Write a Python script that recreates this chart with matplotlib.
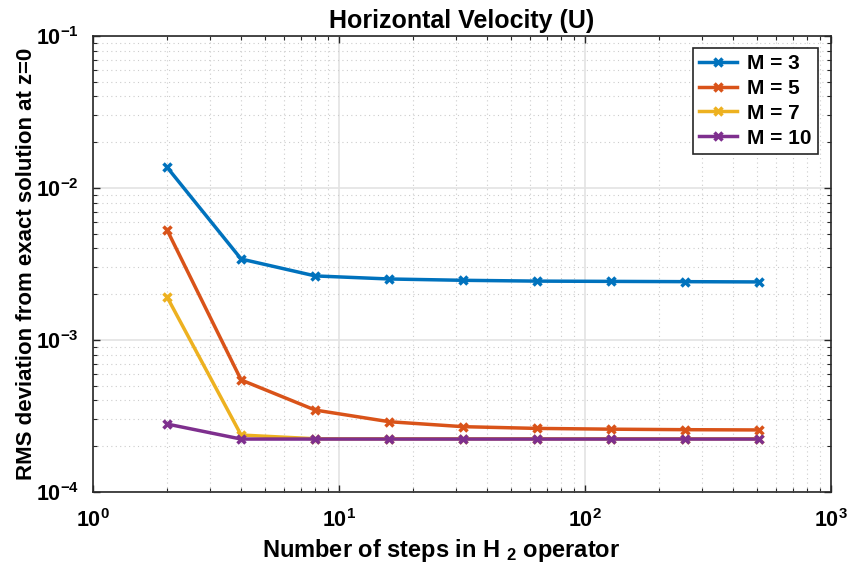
import math
import matplotlib
matplotlib.use("Agg")
import matplotlib.pyplot as plt
from matplotlib.ticker import LogLocator, FuncFormatter, NullFormatter

plt.rcParams['font.family'] = ['Liberation Sans', 'DejaVu Sans']
plt.rcParams['font.weight'] = 'bold'
plt.rcParams['mathtext.fontset'] = 'custom'
plt.rcParams['mathtext.rm'] = 'Liberation Sans:bold'
plt.rcParams['mathtext.bf'] = 'Liberation Sans:bold'
plt.rcParams['mathtext.it'] = 'Liberation Sans:bold'

steps = [2, 4, 8, 16, 32, 64, 128, 256, 512]
rms_m3 = [0.0137, 0.00341, 0.00264, 0.00252, 0.00247, 0.00244, 0.00243, 0.00242, 0.00241]
rms_m5 = [0.0053, 0.000546, 0.000346, 0.00029, 0.000269, 0.000262, 0.000259, 0.000257, 0.000256]
rms_m7 = [0.00192, 0.000237, 0.000224, 0.000224, 0.000224, 0.000224, 0.000224, 0.000224, 0.000224]
rms_m10 = [0.00028, 0.000223, 0.000223, 0.000223, 0.000223, 0.000223, 0.000223, 0.000223, 0.000223]
labels = ['M = 3', 'M = 5', 'M = 7', 'M = 10']
colors = ['#0072BD', '#D95319', '#EDB120', '#7E2F8E']

fig = plt.figure(figsize=(8.5, 5.73), dpi=100)
ax = fig.add_axes([93/850, 1 - 492/573, (831-93)/850, (492-36)/573])

for ys, lab, c in zip([rms_m3, rms_m5, rms_m7, rms_m10], labels, colors):
    ax.plot(steps, ys, '-x', color=c, lw=2.5, ms=6, mew=2.5, label=lab)

ax.set_xscale('log')
ax.set_yscale('log')
ax.set_xlim(1, 1000)
ax.set_ylim(1e-4, 1e-1)

ax.xaxis.set_major_locator(LogLocator(base=10, numticks=10))
ax.yaxis.set_major_locator(LogLocator(base=10, numticks=10))
ax.xaxis.set_minor_locator(LogLocator(base=10, subs=range(2, 10), numticks=20))
ax.yaxis.set_minor_locator(LogLocator(base=10, subs=range(2, 10), numticks=20))
fmt = FuncFormatter(lambda v, p: r'$\mathbf{10^{%d}}$' % round(math.log10(v)))
ax.xaxis.set_major_formatter(fmt)
ax.yaxis.set_major_formatter(fmt)
ax.xaxis.set_minor_formatter(NullFormatter())
ax.yaxis.set_minor_formatter(NullFormatter())

ax.grid(True, which='major', color='#e3e3e3', lw=1.2, ls='-')
ax.grid(True, which='minor', color='#cccccc', lw=0.8, ls=(0, (1, 3)))
ax.set_axisbelow(True)
ax.tick_params(which='both', direction='in', top=True, right=True, labelsize=15.5, color='#262626')
ax.tick_params(axis='x', which='major', pad=12)
ax.tick_params(axis='y', which='major', pad=10)
ax.tick_params(which='major', length=5, width=1)
ax.tick_params(which='minor', length=3, width=0.8)
for s in ax.spines.values():
    s.set_color('#262626')
    s.set_linewidth(1.2)

ax.set_title('Horizontal Velocity (U)', fontsize=18, fontweight='bold', pad=6)
ax.set_xlabel(r'Number of steps in H $_{2}$ operator', fontsize=17, fontweight='bold')
ax.xaxis.set_label_coords(0.4715, -0.098)
ax.set_ylabel('RMS deviation from exact solution at z=0', fontsize=16, fontweight='bold')
ax.yaxis.set_label_coords(-0.076, 0.5)

leg = ax.legend(loc='upper right', fontsize=15, frameon=True, fancybox=False,
                edgecolor='#262626', framealpha=1, handlelength=1.8,
                borderpad=0.3, labelspacing=0.28, handletextpad=0.5,
                borderaxespad=0, bbox_to_anchor=(0.982, 0.974))
leg.get_frame().set_linewidth(1.2)
for t in leg.get_texts():
    t.set_fontweight('bold')

fig.savefig('out.png', dpi=100)
